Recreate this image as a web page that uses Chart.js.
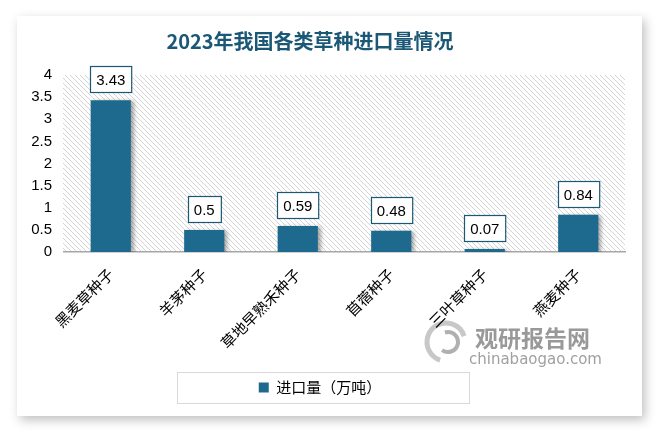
<!DOCTYPE html>
<html>
<head>
<meta charset="utf-8">
<script src="https://cdn.jsdelivr.net/npm/chart.js@4"></script>
<style>
  body { margin: 0; background: #fff; }
  #card {
    position: absolute; left: 17px; top: 16px; width: 625px; height: 400px;
    background: #fff; box-shadow: 3px 4px 10px rgba(0,0,0,0.25);
  }
  #wrap { position: absolute; left: 0; top: 0; width: 659px; height: 432px; }
</style>
</head>
<body>
<div id="card"></div>
<div id="wrap"><canvas id="myChart" width="659" height="432"></canvas></div>
<script>
// Chart data
const chartTitle = "2023年我国各类草种进口量情况";
const categories = ["黑麦草种子", "羊茅种子", "草地早熟禾种子", "苜蓿种子", "三叶草种子", "燕麦种子"];
const importValues = [3.43, 0.5, 0.59, 0.48, 0.07, 0.84];
const seriesName = "进口量（万吨）";

const barColor = "#1d6a8e";
const cjkFont = "'Noto Sans CJK SC', 'Liberation Sans', sans-serif";

// Diagonal hatch pattern for the plot background
function makeHatch() {
  const c = document.createElement("canvas");
  c.width = 5;
  c.height = 5;
  const g = c.getContext("2d");
  g.fillStyle = "#ffffff";
  g.fillRect(0, 0, 5, 5);
  g.strokeStyle = "#d4d4d4";
  g.lineWidth = 1;
  g.beginPath();
  g.moveTo(-1, -1);
  g.lineTo(6, 6);
  g.moveTo(-1, 4);
  g.lineTo(1, 6);
  g.moveTo(4, -1);
  g.lineTo(6, 1);
  g.stroke();
  return g.createPattern(c, "repeat");
}

// Background hatch, title and watermark
const backgroundPlugin = {
  id: "backgroundPlugin",
  beforeDraw(chart) {
    const { ctx, chartArea } = chart;
    ctx.save();
    ctx.fillStyle = makeHatch();
    ctx.fillRect(chartArea.left - 1, chartArea.top, chartArea.right - chartArea.left + 1, chartArea.bottom - chartArea.top);

    // title
    ctx.fillStyle = "#1b5876";
    ctx.font = "bold 20px " + cjkFont;
    ctx.textAlign = "center";
    ctx.textBaseline = "middle";
    ctx.fillText(chartTitle, 310, 41);

    // watermark
    ctx.strokeStyle = "#c8c8c8";
    ctx.lineWidth = 5;
    ctx.beginPath();
    ctx.arc(446, 342, 19, Math.PI * 0.6, Math.PI * 1.9);
    ctx.stroke();
    ctx.strokeStyle = "#b0b0b0";
    ctx.lineWidth = 4;
    ctx.beginPath();
    ctx.arc(448, 342, 10, Math.PI * 1.4, Math.PI * 0.7);
    ctx.stroke();
    ctx.fillStyle = "#999999";
    ctx.textAlign = "left";
    ctx.textBaseline = "alphabetic";
    ctx.font = "bold 23px " + cjkFont;
    ctx.fillText("观研报告网", 475, 347);
    ctx.font = "15px 'DejaVu Sans', sans-serif";
    ctx.fillStyle = "#a0a0a0";
    ctx.fillText("chinabaogao.com", 469, 364);
    ctx.restore();
  },
  beforeDatasetsDraw(chart) {
    const ctx = chart.ctx;
    ctx.save();
    ctx.shadowColor = "rgba(0,0,0,0.35)";
    ctx.shadowBlur = 4;
    ctx.shadowOffsetX = 3;
    ctx.shadowOffsetY = 1;
  },
  afterDatasetsDraw(chart) {
    chart.ctx.restore();
  }
};

// Boxed value labels above the bars
const valueBoxPlugin = {
  id: "valueBoxPlugin",
  afterDatasetsDraw(chart) {
    const ctx = chart.ctx;
    const meta = chart.getDatasetMeta(0);
    ctx.save();
    ctx.font = "15px 'Liberation Sans', sans-serif";
    ctx.textAlign = "center";
    ctx.textBaseline = "middle";
    meta.data.forEach((bar, i) => {
      const text = String(importValues[i]);
      const w = ctx.measureText(text).width + 12;
      const h = 26;
      const x = Math.round(bar.x - w / 2) + 0.5;
      const y = Math.round(bar.y - 8 - h) + 0.5;
      ctx.fillStyle = "#ffffff";
      ctx.fillRect(x, y, w, h);
      ctx.strokeStyle = "#1b5876";
      ctx.lineWidth = 1.2;
      ctx.strokeRect(x, y, w, h);
      ctx.fillStyle = "#000000";
      ctx.fillText(text, bar.x, y + h / 2 + 1);
    });
    ctx.restore();
  }
};

// Border round the legend
const legendBoxPlugin = {
  id: "legendBoxPlugin",
  afterDraw(chart) {
    const lg = chart.legend;
    const ctx = chart.ctx;
    const cy = (lg.top + lg.bottom) / 2;
    ctx.save();
    ctx.strokeStyle = "#d9d9d9";
    ctx.lineWidth = 1;
    ctx.strokeRect(177.5, Math.round(cy - 15.5) + 0.5, 292, 31);
    ctx.restore();
  }
};

function renderChart() {
  const ctx = document.getElementById("myChart").getContext("2d");
  new Chart(ctx, {
    type: "bar",
    data: {
      labels: categories,
      datasets: [
        {
          label: seriesName,
          data: importValues,
          backgroundColor: barColor,
          borderWidth: 0,
          barPercentage: 0.43,
          categoryPercentage: 1
        }
      ]
    },
    options: {
      responsive: false,
      animation: false,
      layout: {
        padding: { left: 15, right: 34, top: 75, bottom: 27 }
      },
      scales: {
        x: {
          grid: { display: false, drawTicks: false },
          border: { display: true, color: "#a6a6a6", width: 1.5 },
          ticks: {
            color: "#000",
            font: { family: cjkFont, size: 15 },
            maxRotation: 45,
            minRotation: 45,
            padding: 13
          },
          afterFit(scale) {
            scale.height = 118;
          }
        },
        y: {
          min: 0,
          max: 4,
          grid: { display: false, drawTicks: false },
          border: { display: false },
          ticks: {
            stepSize: 0.5,
            color: "#000",
            font: { family: "'Liberation Sans', sans-serif", size: 15 },
            padding: 12,
            callback: (value) => String(value)
          },
          afterFit(scale) {
            scale.width = 49;
          }
        }
      },
      plugins: {
        legend: {
          position: "bottom",
          labels: {
            boxWidth: 10,
            boxHeight: 10,
            color: "#000",
            font: { family: cjkFont, size: 15 },
            padding: 10
          }
        },
        tooltip: { enabled: false }
      }
    },
    plugins: [backgroundPlugin, valueBoxPlugin, legendBoxPlugin]
  });
}

document.addEventListener("DOMContentLoaded", renderChart);
</script>
</body>
</html>
